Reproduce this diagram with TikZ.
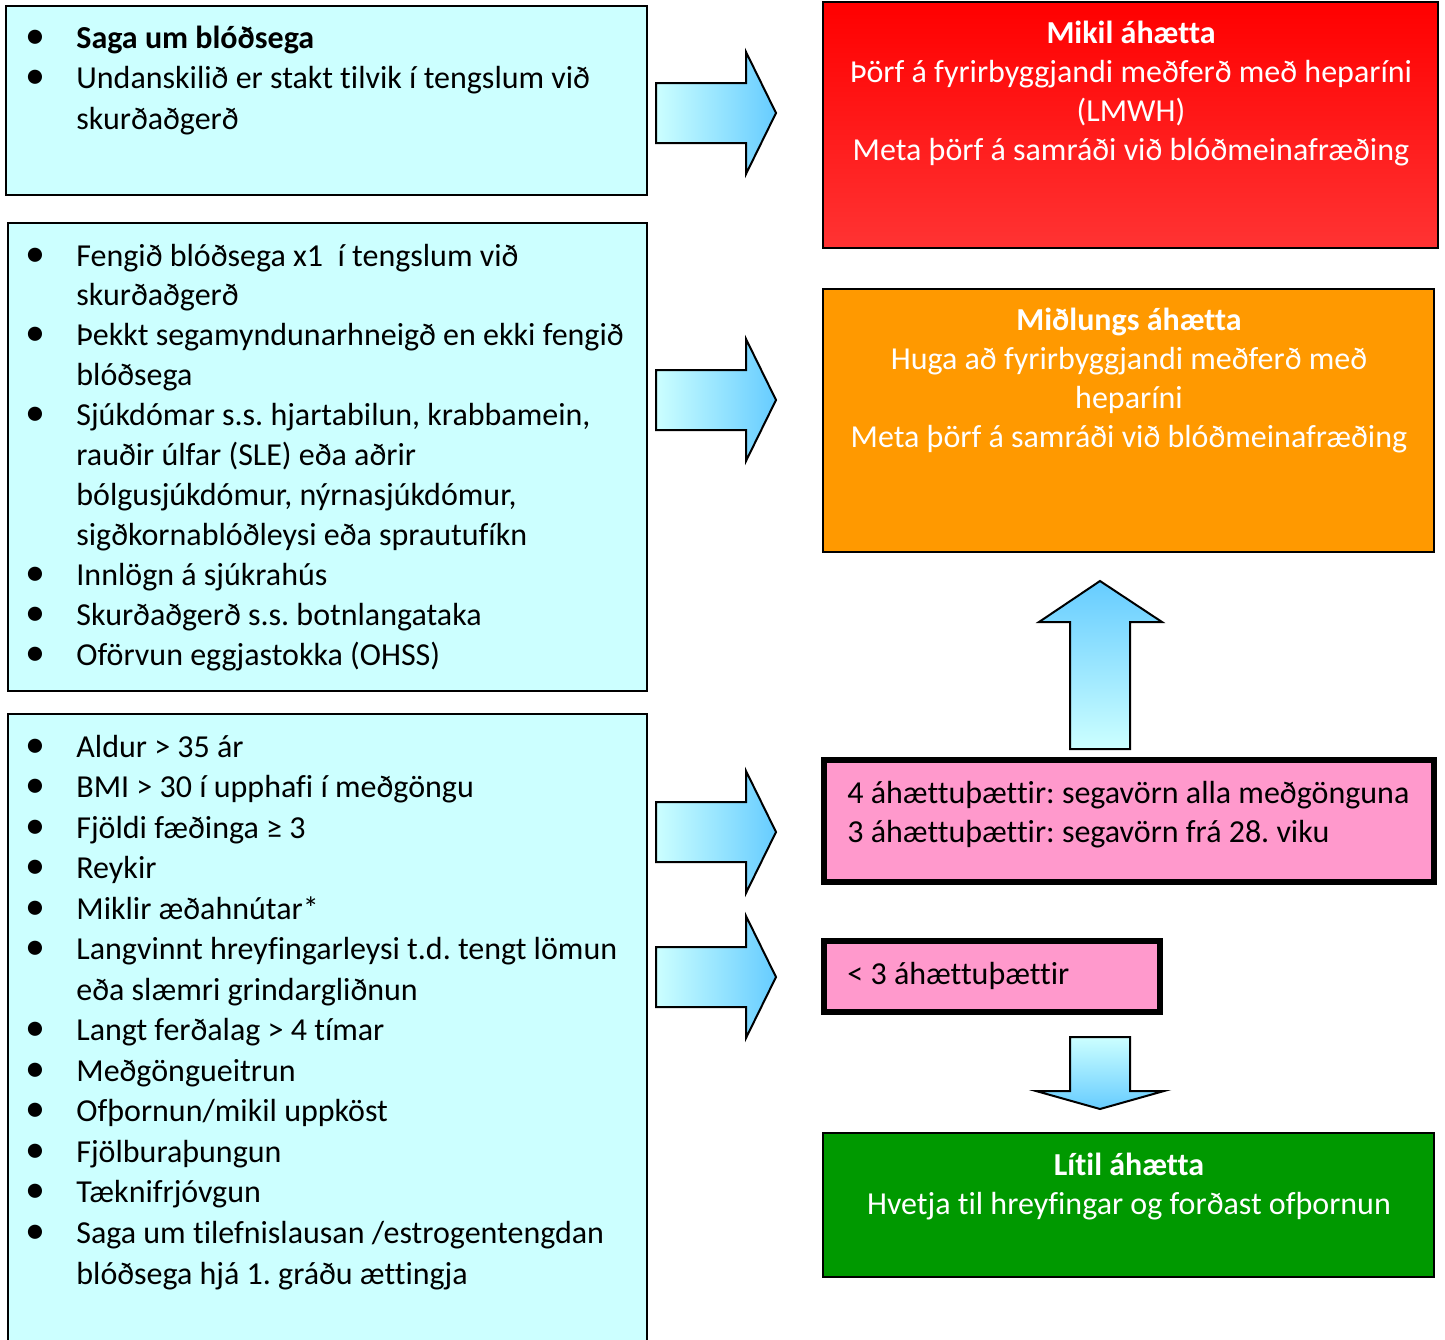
\documentclass[tikz,border=0pt]{standalone}
\usepackage{fontspec}
\setmainfont{Carlito}[Ligatures={TeX,NoCommon,NoRequired,NoContextual},Contextuals={NoAlternate}]
\definecolor{cybg}{HTML}{CCFFFF}
\definecolor{arrlight}{HTML}{CCFFFF}
\definecolor{arrdark}{HTML}{66CCFF}
\definecolor{redtop}{HTML}{FF0000}
\definecolor{redbot}{HTML}{FF3333}
\definecolor{orangebg}{HTML}{FF9900}
\definecolor{pinkbg}{HTML}{FF99CC}
\definecolor{greenbg}{HTML}{009900}
\newcommand{\bul}{\makebox[20.5pt][l]{\makebox[0pt][c]{\fontsize{20}{20}\selectfont •}}}
\frenchspacing
\begin{document}
\frenchspacing
\begin{tikzpicture}[x=0.5pt,y=-0.5pt,
  cyanbox/.style={draw=black, line width=1pt, fill=cybg},
  riskbox/.style={draw=black, line width=1pt},
  pinkbox/.style={draw=black, line width=2.6pt, fill=pinkbg},
  blockarrow/.style={draw=black, line width=1pt, line join=miter},
  rarrow/.style={blockarrow, left color=arrlight, right color=arrdark},
  listtxt/.style={inner sep=0pt, anchor=base west, font=\fontsize{16}{#1}\selectfont\frenchspacing},
  ctxt/.style={inner sep=0pt, anchor=base, text=white, font=\fontsize{16}{19.5}\selectfont\frenchspacing},
  ltxt/.style={inner sep=0pt, anchor=base west, text=black, font=\fontsize{16}{19.5}\selectfont\frenchspacing}
]
\clip (0,0) rectangle (1445,1339);
\fill[white] (0,0) rectangle (1445,1339);

% left boxes
\path[cyanbox] (6,6) rectangle (647,195);
\path[cyanbox] (8,223) rectangle (647,691);
\path[cyanbox] (8,714) rectangle (647,1360);

\node[listtxt=20.25] (t1) at (35,48) {\begin{tabular}[t]{@{}l@{}l@{}}
\bul & \textbf{Saga um blóðsega}\\
\bul & Undanskilið er stakt tilvik í tengslum við\\
 & skurðaðgerð
\end{tabular}};

\node[listtxt=19.95] (t2) at (35,266) {\begin{tabular}[t]{@{}l@{}l@{}}
\bul & Fengið blóðsega x1\ \ í tengslum við\\
 & skurðaðgerð\\
\bul & Þekkt segamyndunarhneigð en ekki fengið\\
 & blóðsega\\
\bul & Sjúkdómar s.s. hjartabilun, krabbamein,\\
 & rauðir úlfar (SLE) eða aðrir\\
 & bólgusjúkdómur, nýrnasjúkdómur,\\
 & sigðkornablóðleysi eða sprautufíkn\\
\bul & Innlögn á sjúkrahús\\
\bul & Skurðaðgerð s.s. botnlangataka\\
\bul & Oförvun eggjastokka (OHSS)
\end{tabular}};

\node[listtxt=20.27] (t3) at (35,757) {\begin{tabular}[t]{@{}l@{}l@{}}
\bul & Aldur > 35 ár\\
\bul & BMI > 30 í upphafi í meðgöngu\\
\bul & Fjöldi fæðinga ≥ 3\\
\bul & Reykir\\
\bul & Miklir æðahnútar*\\
\bul & Langvinnt hreyfingarleysi t.d. tengt lömun\\
 & eða slæmri grindargliðnun\\
\bul & Langt ferðalag > 4 tímar\\
\bul & Meðgöngueitrun\\
\bul & Ofþornun/mikil uppköst\\
\bul & Fjölburaþungun\\
\bul & Tæknifrjóvgun\\
\bul & Saga um tilefnislausan /estrogentengdan\\
 & blóðsega hjá 1. gráðu ættingja
\end{tabular}};

% right boxes
\path[riskbox, top color=redtop, bottom color=redbot] (823,2) rectangle (1438,248);
\node[ctxt] (r1) at (1131,43) {\begin{tabular}[t]{@{}c@{}}
\textbf{Mikil áhætta}\\
Þörf á fyrirbyggjandi meðferð með heparíni\\
(LMWH)\\
Meta þörf á samráði við blóðmeinafræðing
\end{tabular}};

\path[riskbox, fill=orangebg] (823,289) rectangle (1434,552);
\node[ctxt] (r2) at (1129,330) {\begin{tabular}[t]{@{}c@{}}
\textbf{Miðlungs áhætta}\\
Huga að fyrirbyggjandi meðferð með\\
heparíni\\
Meta þörf á samráði við blóðmeinafræðing
\end{tabular}};

\path[pinkbox] (824,760) rectangle (1434,882);
\node[ltxt] (p1) at (847,803) {\begin{tabular}[t]{@{}l@{}}
4 áhættuþættir: segavörn alla meðgönguna\\
3 áhættuþættir: segavörn frá 28. viku
\end{tabular}};

\path[pinkbox] (824,941) rectangle (1160,1012);
\node[ltxt] (p2) at (847,984) {< 3 áhættuþættir};

\path[riskbox, fill=greenbg] (823,1133) rectangle (1434,1277);
\node[ctxt] (g1) at (1129,1175) {\begin{tabular}[t]{@{}c@{}}
\textbf{Lítil áhætta}\\
Hvetja til hreyfingar og forðast ofþornun
\end{tabular}};

% right-pointing block arrows
\foreach \ty/\nm in {113/a1, 400/a2, 832/a3, 977/a4}{
  \path[rarrow] (656,\ty-30) -- (746,\ty-30) -- (746,\ty-61) -- (776,\ty)
     -- (746,\ty+61) -- (746,\ty+30) -- (656,\ty+30) -- cycle;
  \coordinate (\nm) at (776,\ty);
}

% up arrow
\path[blockarrow, top color=arrdark, bottom color=arrlight]
  (1070,749) -- (1070,622) -- (1039,622) -- (1100,581) -- (1162,622)
  -- (1130,622) -- (1130,749) -- cycle;
\coordinate (up) at (1100,581);

% down arrow
\path[blockarrow, top color=arrlight, bottom color=arrdark]
  (1070,1037) -- (1130,1037) -- (1130,1091) -- (1164,1091) -- (1100,1109)
  -- (1036,1091) -- (1070,1091) -- cycle;
\coordinate (down) at (1100,1109);
\end{tikzpicture}
\end{document}
